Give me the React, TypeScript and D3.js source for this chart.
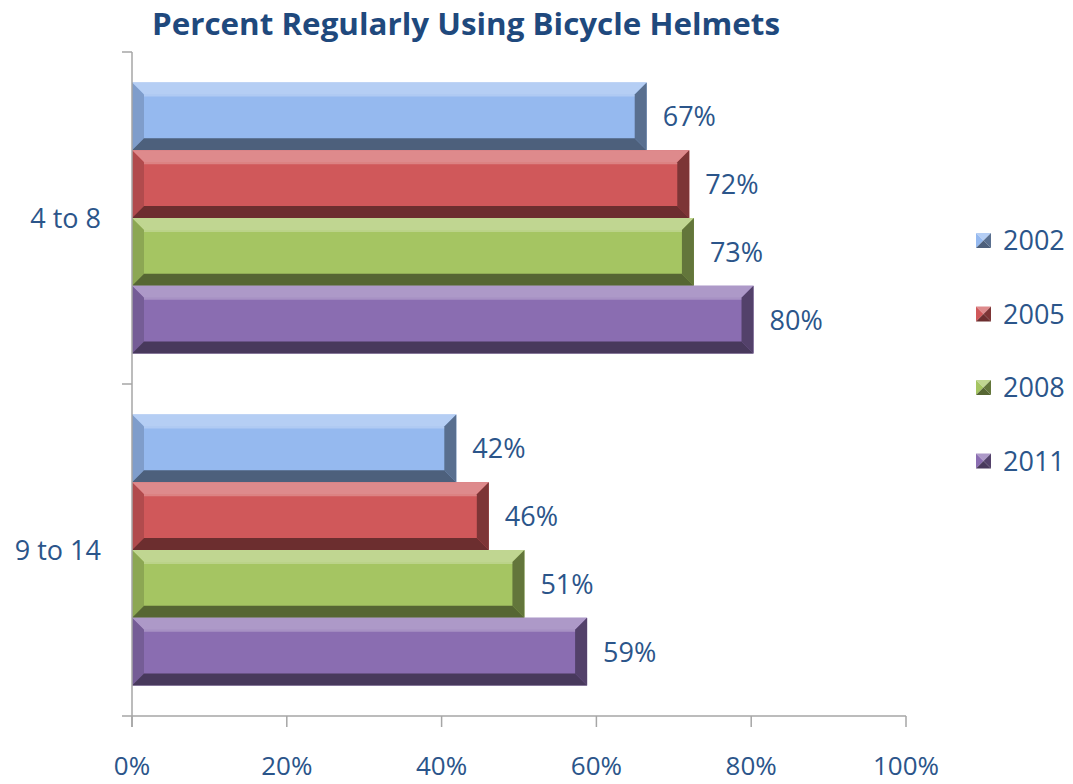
import React from 'react';
import * as d3 from 'd3';

const categories = ['4 to 8', '9 to 14'];
const years = ['2002', '2005', '2008', '2011'];
// percent values per age group, in year order
const values48 = [66.5, 72.0, 72.6, 80.3];
const values914 = [41.9, 46.1, 50.7, 58.8];
const xTicks = [0, 20, 40, 60, 80, 100];
const baseColors = ['#95b9ef', '#d0585a', '#a5c562', '#8a6db1'];

const W = 1073;
const H = 784;
const margin = { top: 52, right: 167, bottom: 68, left: 132 };
const textColor = '#2b558a';
const font = '"Open Sans", "Noto Sans", sans-serif';

const shade = (c: string) => ({
  face: c,
  top: d3.interpolateRgb(c, '#ffffff')(0.3),
  left: d3.interpolateRgb(c, '#000000')(0.15),
  right: d3.interpolateRgb(c, '#000000')(0.4),
  bottom: d3.interpolateRgb(c, '#000000')(0.48),
});

const BevelBar: React.FC<{ x0: number; x1: number; y0: number; y1: number; color: string }> = ({ x0, x1, y0, y1, color }) => {
  const s = shade(color);
  const b = 12;
  const pts = (p: number[][]) => p.map(d => d.join(',')).join(' ');
  return (
    <g>
      <rect x={x0} y={y0} width={x1 - x0} height={y1 - y0} fill={s.face} />
      <polygon points={pts([[x0, y0], [x1, y0], [x1 - b, y0 + b], [x0 + b, y0 + b]])} fill={s.top} />
      <polygon points={pts([[x0, y0], [x0 + b, y0 + b], [x0 + b, y1 - b], [x0, y1]])} fill={s.left} />
      <polygon points={pts([[x1, y0], [x1, y1], [x1 - b, y1 - b], [x1 - b, y0 + b]])} fill={s.right} />
      <polygon points={pts([[x0, y1], [x1, y1], [x1 - b, y1 - b], [x0 + b, y1 - b]])} fill={s.bottom} />
      <line x1={x0 + b} x2={x1 - b} y1={y0 + b + 1} y2={y0 + b + 1} stroke="#ffffff" strokeOpacity={0.25} strokeWidth={2} />
    </g>
  );
};

const LegendMark: React.FC<{ x: number; y: number; color: string }> = ({ x, y, color }) => {
  const s = shade(color);
  const n = 15;
  const cx = x + n / 2, cy = y + n / 2;
  const pts = (p: number[][]) => p.map(d => d.join(',')).join(' ');
  return (
    <g>
      <polygon points={pts([[x, y], [x + n, y], [cx, cy]])} fill={s.top} />
      <polygon points={pts([[x, y], [cx, cy], [x, y + n]])} fill={s.face} />
      <polygon points={pts([[x + n, y], [x + n, y + n], [cx, cy]])} fill={s.right} />
      <polygon points={pts([[x, y + n], [x + n, y + n], [cx, cy]])} fill={s.bottom} />
    </g>
  );
};

export default function App() {
  const x = d3.scaleLinear().domain([0, 100]).range([margin.left, W - margin.right]);
  const y = d3.scaleBand<string>().domain(categories).range([margin.top, H - margin.bottom]).padding(0);
  const ySub = d3.scaleBand<string>().domain(years).range([0, y.bandwidth()]).paddingInner(0).paddingOuter(0.45);
  const data = [values48, values914];
  const fmt = (v: number) => d3.format('.0f')(v) + '%';
  const axisY = H - margin.bottom;
  const axisColor = '#a6a6a6';

  return (
    <svg width={W} height={H} style={{ position: 'absolute', left: 0, top: 0, background: '#fff' }} fontFamily={font}>
      <text x={466} y={35} textAnchor="middle" fontSize={31} fontWeight="bold" fill="#1f497d" textLength={628} lengthAdjust="spacingAndGlyphs">
        Percent Regularly Using Bicycle Helmets
      </text>

      {categories.map((c, ci) => (
        <g key={c}>
          {years.map((yr, si) => {
            const v = data[ci][si];
            const y0 = (y(c) ?? 0) + (ySub(yr) ?? 0);
            const y1 = y0 + ySub.bandwidth();
            return (
              <g key={yr}>
                <BevelBar x0={x(0)} x1={x(v)} y0={y0} y1={y1} color={baseColors[si]} />
                <text x={x(v) + 16} y={(y0 + y1) / 2 + 10} fontSize={27} fill={textColor}>{fmt(v)}</text>
              </g>
            );
          })}
          <text x={x(0) - 31} y={(y(c) ?? 0) + y.bandwidth() / 2 + 10} textAnchor="end" fontSize={27} fill={textColor}>{c}</text>
        </g>
      ))}

      {/* axes */}
      <line x1={x(0)} x2={x(0)} y1={margin.top} y2={axisY + 11} stroke={axisColor} strokeWidth={1.5} />
      <line x1={x(0) - 10} x2={x(100)} y1={axisY} y2={axisY} stroke={axisColor} strokeWidth={1.5} />
      {[margin.top, ...categories.map(c => (y(c) ?? 0) + y.bandwidth())].slice(0, 2).map((t, i) => (
        <line key={i} x1={x(0) - 10} x2={x(0)} y1={t} y2={t} stroke={axisColor} strokeWidth={1.5} />
      ))}
      {xTicks.map(t => (
        <g key={t}>
          <line x1={x(t)} x2={x(t)} y1={axisY} y2={axisY + 11} stroke={axisColor} strokeWidth={1.5} />
          <text x={x(t)} y={775} textAnchor="middle" fontSize={26} fill={textColor}>{t}%</text>
        </g>
      ))}

      {years.map((yr, i) => (
        <g key={yr}>
          <LegendMark x={976} y={233 + i * 73.5} color={baseColors[i]} />
          <text x={1003} y={250 + i * 73.5} fontSize={27} fill={textColor}>{yr}</text>
        </g>
      ))}
    </svg>
  );
}
